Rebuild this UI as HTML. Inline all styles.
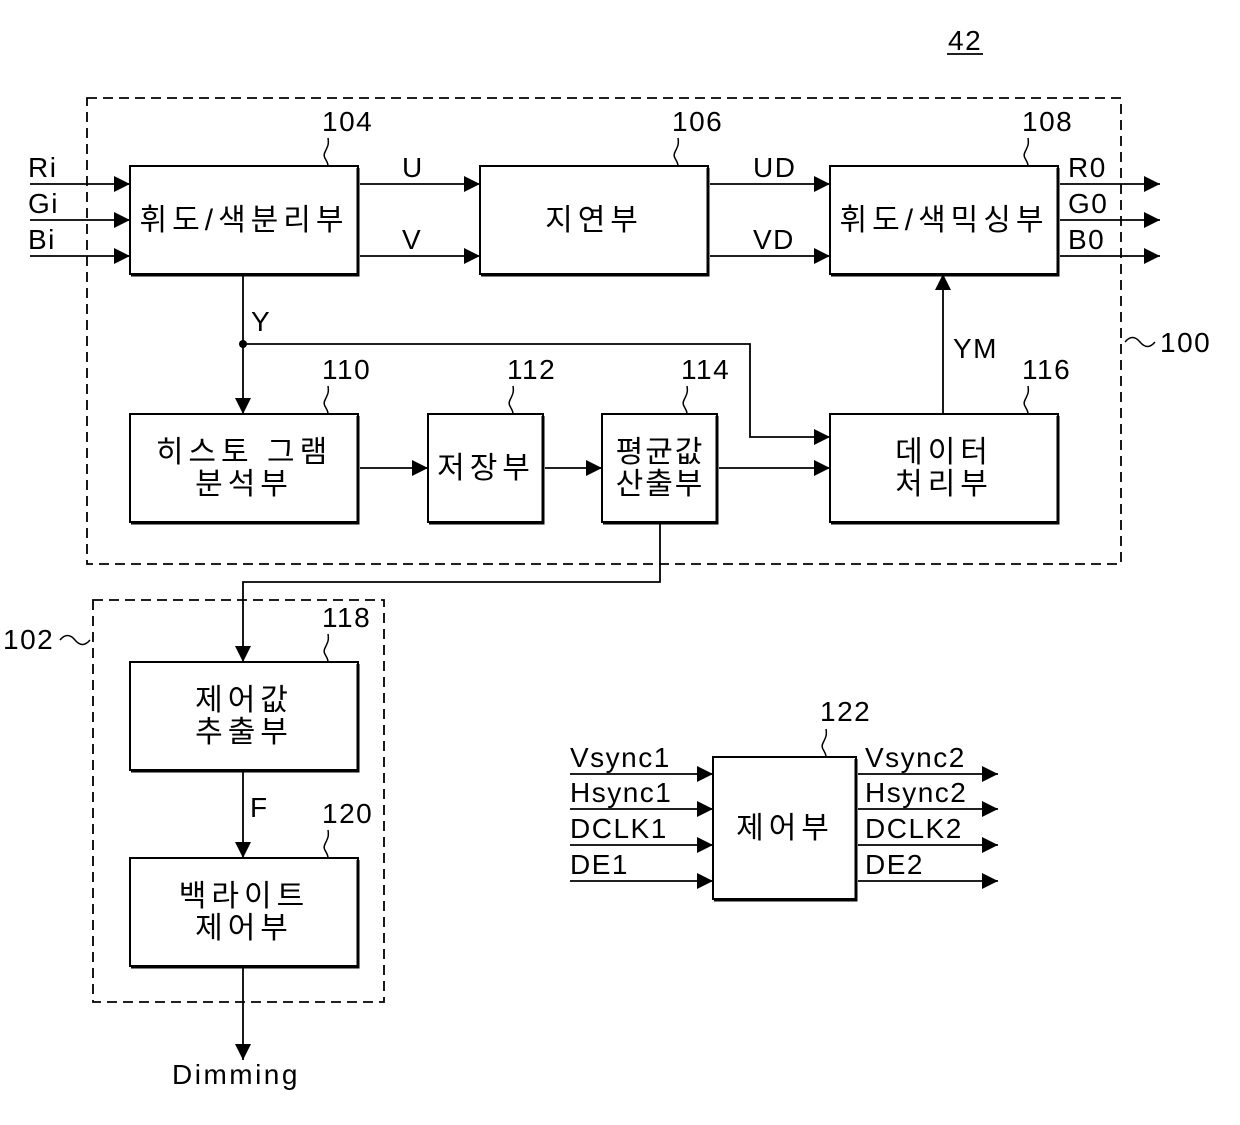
<!DOCTYPE html>
<html><head><meta charset="utf-8"><style>
html,body{margin:0;padding:0;background:#fff}
svg{display:block}
text{font-family:"Liberation Sans","Noto Sans CJK KR","NanumGothic",sans-serif;fill:#000}
</style></head><body>
<svg width="1240" height="1125" viewBox="0 0 1240 1125" xmlns="http://www.w3.org/2000/svg">
<defs>
<marker id="a" viewBox="0 0 10 10" refX="10" refY="5" markerWidth="16" markerHeight="16" markerUnits="userSpaceOnUse" orient="auto"><path d="M0,0 L10,5 L0,10 z" fill="#000"/></marker>
<g id="sq"><path d="M0,0 c0,-6 -6,-8 -3,-14 c3,-6 4,-8 3,-14" fill="none" stroke="#000" stroke-width="1.5"/></g>
</defs>
<g fill="none" stroke="#000" stroke-width="1.8" stroke-dasharray="10,6">
<rect x="87" y="98" width="1034" height="466"/>
<rect x="93" y="600" width="291" height="402"/>
</g>
<g fill="#fff" stroke="#000" stroke-width="2">
<rect x="130" y="166" width="228" height="108"/>
<rect x="480" y="166" width="228" height="108"/>
<rect x="830" y="166" width="228" height="108"/>
<rect x="130" y="414" width="228" height="108"/>
<rect x="428" y="414" width="115" height="108"/>
<rect x="602" y="414" width="115" height="108"/>
<rect x="830" y="414" width="228" height="108"/>
<rect x="130" y="662" width="228" height="108"/>
<rect x="130" y="858" width="228" height="108"/>
<rect x="713" y="757" width="143" height="142"/>
</g>
<g stroke="#000" stroke-width="3" fill="none">
<path d="M358,168 V275 H131"/><path d="M708,168 V275 H481"/><path d="M1058,168 V275 H831"/>
<path d="M358,416 V523 H131"/><path d="M543,416 V523 H429"/><path d="M717,416 V523 H603"/><path d="M1058,416 V523 H831"/>
<path d="M358,664 V771 H131"/><path d="M358,860 V967 H131"/><path d="M856,759 V900 H714"/>
</g>
<g stroke="#000" stroke-width="1.8" fill="none" marker-end="url(#a)">
<path d="M30,184 H130"/><path d="M30,220 H130"/><path d="M30,256 H130"/>
<path d="M360,184 H480"/><path d="M360,256 H480"/>
<path d="M710,184 H830"/><path d="M710,256 H830"/>
<path d="M1060,184 H1160"/><path d="M1060,220 H1160"/><path d="M1060,256 H1160"/>
<path d="M243,276 V414"/>
<path d="M243,344 H750 V437 H830"/>
<path d="M360,468 H428"/><path d="M545,468 H602"/><path d="M719,468 H830"/>
<path d="M943,414 V274"/>
<path d="M660,524 V582 H243 V662"/>
<path d="M243,772 V858"/>
<path d="M243,968 V1060"/>
<path d="M570,774 H713"/><path d="M570,809 H713"/><path d="M570,845 H713"/><path d="M570,881 H713"/>
<path d="M858,774 H998"/><path d="M858,809 H998"/><path d="M858,845 H998"/><path d="M858,881 H998"/>
</g>
<circle cx="243" cy="344" r="4" fill="#000"/>
<use href="#sq" x="328" y="166"/><use href="#sq" x="678" y="166"/><use href="#sq" x="1028" y="166"/>
<use href="#sq" x="328" y="414"/><use href="#sq" x="513" y="414"/><use href="#sq" x="687" y="414"/><use href="#sq" x="1028" y="414"/>
<use href="#sq" x="328" y="662"/><use href="#sq" x="328" y="858"/><use href="#sq" x="826" y="757"/>
<path d="M1125,342 c5,-6 10,-6 15,0 c5,6 10,6 15,0" fill="none" stroke="#000" stroke-width="1.5"/>
<path d="M60,640 c5,-6 10,-6 15,0 c5,6 10,6 15,0" fill="none" stroke="#000" stroke-width="1.5"/>
<g font-size="28" letter-spacing="1.5">
<text x="948" y="50">42</text>
<text x="322" y="131">104</text><text x="672" y="131">106</text><text x="1022" y="131">108</text>
<text x="322" y="379">110</text><text x="507" y="379">112</text><text x="681" y="379">114</text><text x="1022" y="379">116</text>
<text x="322" y="627">118</text><text x="322" y="823">120</text><text x="820" y="721">122</text>
<text x="1160" y="352">100</text><text x="3" y="649">102</text>
<text x="28" y="177">Ri</text><text x="28" y="213">Gi</text><text x="28" y="249">Bi</text>
<text x="402" y="177">U</text><text x="402" y="249">V</text>
<text x="753" y="177">UD</text><text x="753" y="249">VD</text>
<text x="1068" y="177">R0</text><text x="1068" y="213">G0</text><text x="1068" y="249">B0</text>
<text x="251" y="331">Y</text><text x="953" y="358">YM</text><text x="250" y="817">F</text>
<text x="172" y="1084" letter-spacing="2.5">Dimming</text>
<text x="570" y="767">Vsync1</text><text x="570" y="802">Hsync1</text><text x="570" y="838">DCLK1</text><text x="570" y="874">DE1</text>
<text x="865" y="767">Vsync2</text><text x="865" y="802">Hsync2</text><text x="865" y="838">DCLK2</text><text x="865" y="874">DE2</text>
</g>
<line x1="947" y1="54" x2="983" y2="54" stroke="#000" stroke-width="1.8"/>
<g font-size="30" text-anchor="middle" letter-spacing="5">
<text x="244" y="230">휘도/색분리부</text>
<text x="594" y="230">지연부</text>
<text x="944" y="230">휘도/색믹싱부</text>
<text x="244" y="462">히스토 그램</text><text x="244" y="494">분석부</text>
<text x="486" y="478">저장부</text>
<text x="660" y="462" letter-spacing="2">평균값</text><text x="660" y="494" letter-spacing="2">산출부</text>
<text x="944" y="462">데이터</text><text x="944" y="494">처리부</text>
<text x="244" y="710">제어값</text><text x="244" y="742">추출부</text>
<text x="244" y="906">백라이트</text><text x="244" y="938">제어부</text>
<text x="785" y="838">제어부</text>
</g>
</svg>
</body></html>
